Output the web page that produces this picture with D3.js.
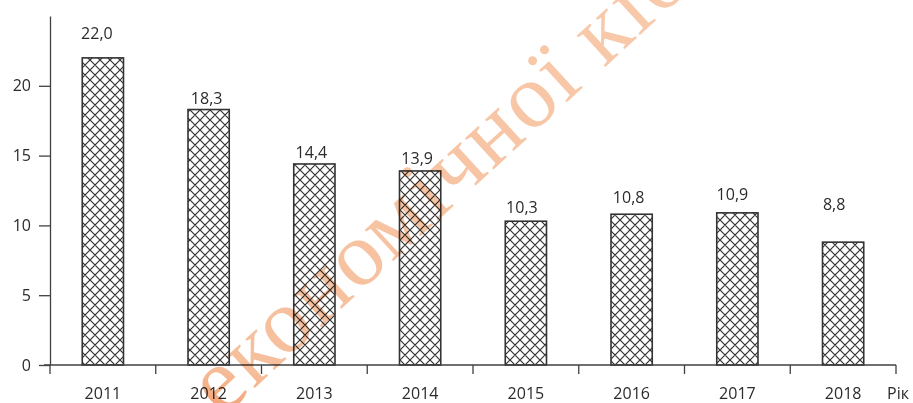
<!DOCTYPE html>
<html>
<head>
	<meta charset="utf-8">
	<script src="https://d3js.org/d3.v7.min.js"></script>
	<title>Рік chart</title>
	<style>
		body { margin: 0; background: #fff; }
		text { font-family: "Open Sans", sans-serif; fill: #2b2b2b; }
	</style>
</head>
<body>
	<div id="chart"></div>

	<script type="text/javascript">

		// data
		var years = ["2011", "2012", "2013", "2014", "2015", "2016", "2017", "2018"];
		var values = [22.0, 18.3, 14.4, 13.9, 10.3, 10.8, 10.9, 8.8];
		var yTicks = [0, 5, 10, 15, 20];
		var axisTitle = "Рік";
		var watermark = "економічної кібернетики";

		// hand-placed data labels in the original (px shift left / px above bar)
		var labelShift = [6, 2, 3, 3, 4, 3, 5, 9];
		var labelLift = [19, 6, 6, 7, 8, 11, 13, 32];

		var svgwidth = 913;
		var svgheight = 403;
		var axisColor = "#404040";

		var svg = d3.select("#chart").append("svg")
			.attr("width", svgwidth)
			.attr("height", svgheight);

		var defs = svg.append("defs");

		// cross hatch fill of the bars
		var pat = defs.append("pattern")
			.attr("id", "hatch")
			.attr("patternUnits", "userSpaceOnUse")
			.attr("width", 10)
			.attr("height", 10);
		pat.append("rect").attr("width", 10).attr("height", 10).attr("fill", "#fff");
		pat.append("path")
			.attr("d", "M0,0L10,10M10,0L0,10M-5,5L5,15M5,-5L15,5M-5,5L5,-5M5,15L15,5")
			.attr("stroke", "#333")
			.attr("stroke-width", 1.2)
			.attr("fill", "none");

		var grad = defs.append("linearGradient")
			.attr("id", "wm")
			.attr("gradientUnits", "userSpaceOnUse")
			.attr("x1", 220).attr("y1", 400)
			.attr("x2", 700).attr("y2", 0);
		grad.append("stop").attr("offset", 0).attr("stop-color", "#e8582c");
		grad.append("stop").attr("offset", 0.1).attr("stop-color", "#f08a58");
		grad.append("stop").attr("offset", 0.22).attr("stop-color", "#f6bf9c");
		grad.append("stop").attr("offset", 1).attr("stop-color", "#f8cbad");

		var xScale = d3.scaleBand()
			.domain(years)
			.range([50, 896])
			.paddingInner(0.61)
			.paddingOuter(0.305);

		var yScale = d3.scaleLinear()
			.domain([0, 25])
			.range([365, 16]);

		// bars
		svg.selectAll(".bar")
			.data(values).enter().append("rect")
			.attr("class", "bar")
			.attr("x", function(d, i){ return xScale(years[i]); })
			.attr("y", function(d){ return yScale(d); })
			.attr("width", xScale.bandwidth())
			.attr("height", function(d){ return yScale(0) - yScale(d); })
			.attr("fill", "url(#hatch)")
			.attr("stroke", "#333")
			.attr("stroke-width", 1.6);

		// value labels, decimal comma
		svg.selectAll(".val")
			.data(values).enter().append("text")
			.attr("class", "val")
			.attr("x", function(d, i){ return xScale(years[i]) + xScale.bandwidth() / 2 - labelShift[i]; })
			.attr("y", function(d, i){ return yScale(d) - labelLift[i]; })
			.attr("text-anchor", "middle")
			.style("font-size", "16px")
			.text(function(d){ return d.toFixed(1).replace(".", ","); });

		// y axis
		var yAxis = d3.axisLeft(yScale)
			.tickValues(yTicks)
			.tickSize(11)
			.tickSizeOuter(0)
			.tickPadding(8);

		var gy = svg.append("g")
			.attr("transform", "translate(50,0)")
			.call(yAxis);
		gy.select(".domain").attr("stroke", axisColor).attr("stroke-width", 1.3);
		gy.selectAll(".tick line").attr("stroke", axisColor).attr("stroke-width", 1.3);
		gy.selectAll(".tick text")
			.style("font-size", "16px")
			.style("font-family", "Open Sans, sans-serif")
			.attr("fill", "#2b2b2b");

		// x axis: base line, boundary ticks, year labels
		var step = xScale.step();
		var bounds = years.map(function(d){ return xScale(d) - step * xScale.paddingInner() / 2; });
		bounds.push(xScale.range()[1]);

		svg.append("line")
			.attr("x1", 44).attr("x2", xScale.range()[1])
			.attr("y1", yScale(0)).attr("y2", yScale(0))
			.attr("stroke", axisColor).attr("stroke-width", 1.3);

		svg.selectAll(".xtick")
			.data(bounds).enter().append("line")
			.attr("class", "xtick")
			.attr("x1", function(d){ return d; }).attr("x2", function(d){ return d; })
			.attr("y1", yScale(0)).attr("y2", yScale(0) + 9)
			.attr("stroke", axisColor).attr("stroke-width", 1.3);

		svg.selectAll(".xlab")
			.data(years).enter().append("text")
			.attr("class", "xlab")
			.attr("x", function(d){ return xScale(d) + xScale.bandwidth() / 2; })
			.attr("y", 399)
			.attr("text-anchor", "middle")
			.style("font-size", "16px")
			.text(function(d){ return d; });

		svg.append("text")
			.attr("x", 887)
			.attr("y", 399)
			.style("font-size", "16px")
			.text(axisTitle);

		// diagonal watermark over the chart
		svg.append("text")
			.attr("transform", "translate(222,418) rotate(-42.5)")
			.style("font-family", "Liberation Serif, serif")
			.style("font-size", "92px")
			.style("letter-spacing", "2px")
			.style("mix-blend-mode", "multiply")
			.style("fill", "url(#wm)")
			.text(watermark);

	</script>
</body>
</html>
